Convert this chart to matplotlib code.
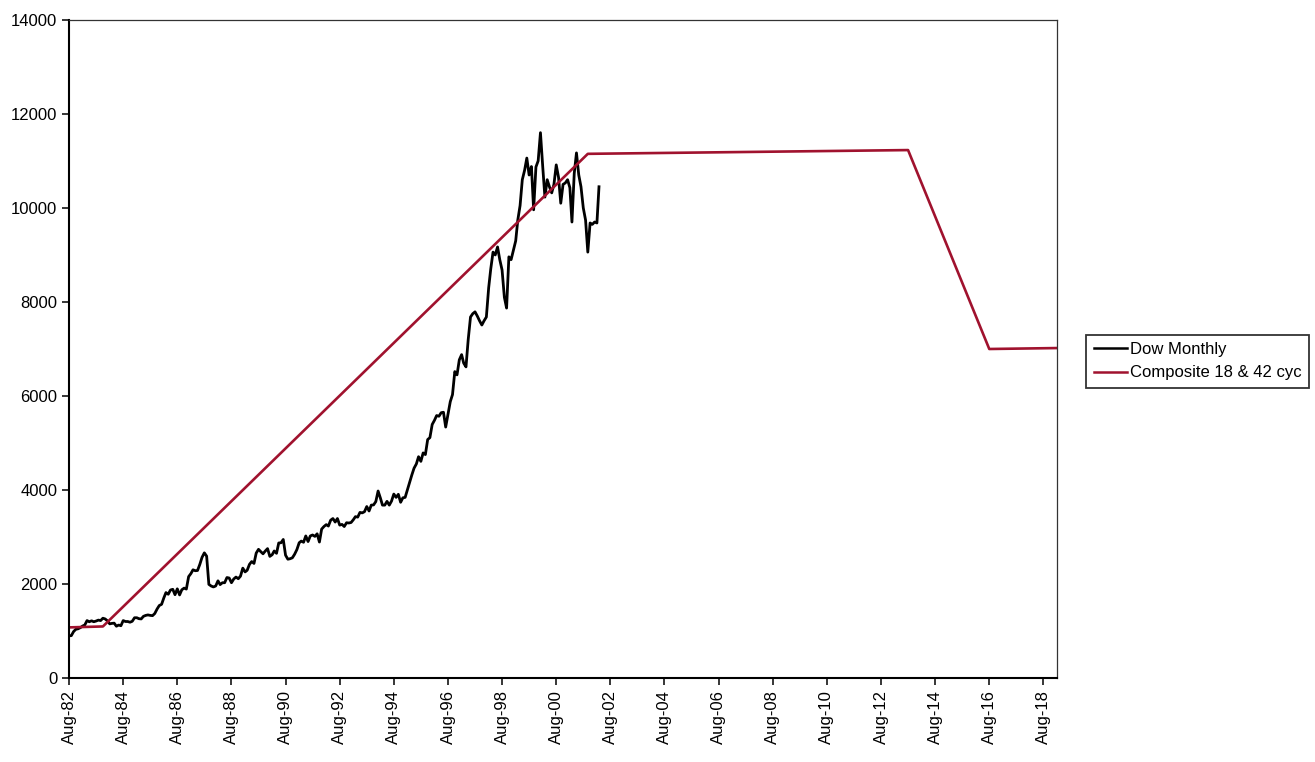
import pandas as pd
import matplotlib
matplotlib.use("Agg")
import matplotlib.pyplot as plt
import matplotlib.dates as mdates

plt.rcParams['font.family'] = ['Liberation Sans', 'DejaVu Sans']

# Dow monthly values, Aug-82 .. Mar-02
dow_start = '1982-08-01'
dow = [
    # 1982 Aug-Dec
    900, 905, 990, 1040, 1050,
    # 1983
    1075, 1110, 1130, 1225, 1200, 1220, 1200, 1215, 1235, 1225, 1275, 1260,
    # 1984
    1220, 1155, 1165, 1170, 1105, 1130, 1115, 1225, 1205, 1205, 1190, 1210,
    # 1985
    1285, 1285, 1265, 1260, 1315, 1335, 1345, 1335, 1330, 1375, 1470, 1545,
    # 1986
    1570, 1710, 1820, 1785, 1875, 1890, 1775, 1900, 1770, 1880, 1915, 1895,
    # 1987
    2160, 2225, 2305, 2285, 2290, 2420, 2570, 2665, 2595, 1995, 1960, 1940,
    # 1988
    1960, 2070, 1990, 2030, 2030, 2140, 2130, 2030, 2110, 2150, 2115, 2170,
    # 1989
    2340, 2260, 2295, 2420, 2480, 2440, 2660, 2740, 2690, 2645, 2705, 2755,
    # 1990
    2590, 2625, 2705, 2655, 2875, 2880, 2950, 2615, 2530, 2540, 2560, 2635,
    # 1991
    2735, 2880, 2915, 2890, 3025, 2905, 3025, 3045, 3015, 3070, 2895, 3170,
    # 1992
    3225, 3265, 3235, 3360, 3395, 3320, 3395, 3255, 3270, 3225, 3305, 3300,
    # 1993
    3310, 3370, 3435, 3425, 3525, 3515, 3540, 3650, 3555, 3680, 3685, 3755,
    # 1994
    3980, 3830, 3680, 3680, 3760, 3680, 3765, 3915, 3845, 3910, 3740, 3835,
    # 1995
    3845, 4010, 4155, 4320, 4465, 4555, 4710, 4610, 4790, 4755, 5075, 5115,
    # 1996
    5395, 5485, 5585, 5570, 5645, 5655, 5340, 5615, 5880, 6030, 6520, 6450,
    # 1997
    6770, 6880, 6700, 6620, 7200, 7680, 7750, 7790, 7700, 7600, 7510, 7600,
    # 1998
    7680, 8300, 8700, 9060, 9000, 9170, 8900, 8680, 8100, 7870, 8960, 8900,
    # 1999
    9100, 9300, 9740, 10050, 10600, 10800, 11060, 10700, 10880, 9960, 10870, 11000,
    # 2000
    11600, 10870, 10230, 10600, 10450, 10320, 10500, 10915, 10650, 10100, 10500, 10530,
    # 2001
    10600, 10430, 9700, 10735, 11170, 10700, 10450, 10000, 9740, 9060, 9680, 9650,
    # 2002 Jan-Mar
    9700, 9680, 10450,
]

# Composite 18 & 42 cycle projection (corner points)
comp_dates = ['1982-08-01', '1983-11-01', '2001-10-01', '2013-08-01',
              '2016-08-01', '2019-02-01']
comp_vals = [1080, 1100, 11150, 11230, 7000, 7020]

y_ticks = [0, 2000, 4000, 6000, 8000, 10000, 12000, 14000]

dow_dates = pd.date_range(dow_start, periods=len(dow), freq='MS')
comp_x = pd.to_datetime(comp_dates)

fig = plt.figure(figsize=(13.15, 7.62), dpi=100)
ax = fig.add_axes([0.0525, 0.110, 0.7513, 0.864])

ax.plot(dow_dates, dow, color='black', lw=2.0, label='Dow Monthly')
ax.plot(comp_x, comp_vals, color='#A0122E', lw=1.9, label='Composite 18 & 42 cyc')

ax.set_xlim(dow_dates[0], comp_x[-1])
ax.set_ylim(0, 14000)
ax.set_yticks(y_ticks)
ax.set_yticklabels([str(v) for v in y_ticks])

ax.set_xticks(pd.date_range('1982-08-01', '2018-08-01', freq='24MS'))
ax.xaxis.set_major_formatter(mdates.DateFormatter('%b-%y'))
plt.setp(ax.get_xticklabels(), rotation=90)

ax.tick_params(axis='both', direction='out', length=5, width=1.1,
               labelsize=12, colors='black')
for side in ['left', 'bottom']:
    ax.spines[side].set_linewidth(1.5)
for side in ['top', 'right']:
    ax.spines[side].set_linewidth(0.9)
    ax.spines[side].set_color('#333333')

leg = fig.legend(loc='center left', bbox_to_anchor=(0.826, 0.526),
                 fontsize=12, frameon=True, fancybox=False, edgecolor='black',
                 handlelength=2.0, handletextpad=0.15, borderpad=0.45,
                 labelspacing=0.5, borderaxespad=0)
leg.get_frame().set_linewidth(1.3)
for line in leg.get_lines():
    line.set_linewidth(1.8)

fig.savefig('out.png', dpi=100)
